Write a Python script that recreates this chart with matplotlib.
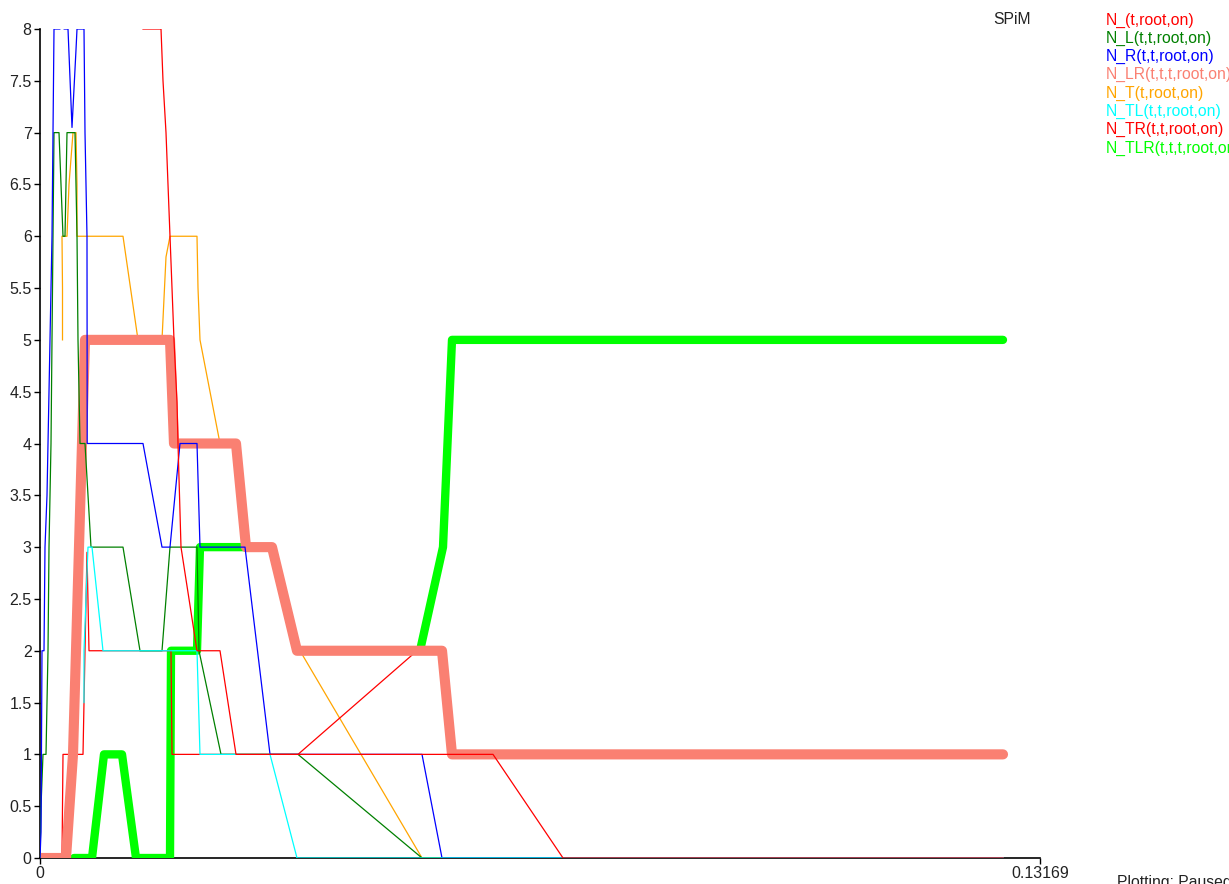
import matplotlib.pyplot as plt
import numpy as np

plt.rcParams["font.family"] = ["Liberation Sans", "DejaVu Sans"]

# simulation time in milliseconds, population counts per species
t_n = [0, 2.897, 3.029, 5.663, 5.926, 6.189, 6.453, 6.980, 17.251, 17.383,
       33.976, 49.647, 52.940, 54.256, 126.817]
n_n = [0, 0, 1, 1, 2, 2.95, 2, 2, 2, 1, 1, 2, 2, 1, 1]

t_l = [0, 0.132, 0.395, 0.790, 0.922, 1.054, 1.185, 1.449, 1.580, 1.712, 1.844,
       2.502, 2.634, 2.765, 2.897, 3.029, 3.292, 3.424, 3.556, 4.609, 4.873,
       5.004, 5.268, 5.926, 6.716, 10.930, 13.169, 16.066, 17.120, 20.675,
       20.938, 23.836, 33.976, 50.306, 126.817]
n_l = [0, 0.5, 1, 1, 1.5, 2, 3, 4, 5, 6, 7,
       7, 6.75, 6.5, 6.25, 6, 6, 6.5, 7, 7, 6,
       5, 4, 4, 3, 3, 2, 2, 3, 3,
       2, 1, 1, 0, 0]

t_r = [0, 0.132, 0.263, 0.527, 0.658, 0.922, 1.054, 1.185, 1.317, 1.580, 1.712,
       1.844, 2.634, 2.897, 3.161, 3.687, 4.214, 4.741, 4.873, 5.794, 5.926,
       6.189, 6.216, 13.564, 16.066, 17.120, 18.437, 20.675, 21.070, 26.996,
       30.289, 50.306, 52.940, 126.817]
n_r = [0, 0.25, 2, 2, 3, 3.5, 4, 4.5, 5, 6, 7,
       8, 8, 9, 8, 8, 7.05, 7.8, 8, 8, 7,
       6, 4, 4, 3, 3, 4, 4, 3, 3,
       1, 1, 0, 0]

t_lr = [0, 3.424, 4.346, 4.741, 5.136, 5.926, 17.120, 17.646, 25.811, 27.128,
        30.552, 33.844, 52.940, 54.256, 126.817]
n_lr = [0, 0, 1, 2, 3, 5, 5, 4, 4, 3, 3, 2, 2, 1, 1]

t_t = [2.963, 2.963, 2.897, 3.556, 3.819, 4.346, 4.741, 4.873, 4.873, 10.930,
       12.906, 16.066, 16.593, 17.120, 20.675, 20.807, 21.070, 23.704, 25.811,
       27.128, 30.552, 33.844, 34.239, 50.306, 126.817]
n_t = [5, 5.5, 6, 6, 6.5, 7, 7, 6.5, 6, 6,
       5, 5, 5.8, 6, 6, 5.5, 5, 4, 4,
       3, 3, 2, 2, 0, 0]

t_tl = [5.794, 5.794, 6.321, 6.848, 8.296, 20.675, 21.070, 30.289, 33.844, 126.817]
n_tl = [1.5, 2, 3, 3, 2, 2, 1, 1, 0, 0]

t_tr = [13.564, 15.935, 16.198, 16.593, 16.856, 17.120, 17.383, 17.646, 18.042,
        18.173, 18.568, 20.675, 23.704, 25.811, 59.656, 68.874, 126.817]
n_tr = [8, 8, 7.5, 7, 6.5, 6, 5.5, 5, 4.4,
        4, 3, 2, 2, 1, 1, 0, 0]

t_tlr = [4.477, 6.848, 8.428, 10.799, 12.642, 17.120, 17.251, 20.675, 21.070,
         26.996, 30.552, 33.844, 50.042, 53.071, 54.256, 126.817]
n_tlr = [0, 0, 1, 1, 0, 0, 2, 2, 3,
         3, 3, 2, 2, 3, 5, 5]

t_end = 0.13169
y_ticks = [0, 0.5, 1, 1.5, 2, 2.5, 3, 3.5, 4, 4.5, 5, 5.5, 6, 6.5, 7, 7.5, 8]
y_labels = ["0", "0.5", "1", "1.5", "2", "2.5", "3", "3.5", "4", "4.5",
            "5", "5.5", "6", "6.5", "7", "7.5", "8"]

legend_names = ["N_(t,root,on)", "N_L(t,t,root,on)", "N_R(t,t,root,on)",
                "N_LR(t,t,t,root,on)", "N_T(t,root,on)", "N_TL(t,t,root,on)",
                "N_TR(t,t,root,on)", "N_TLR(t,t,t,root,on)"]
legend_colors = ["#ff0000", "#008000", "#0000ff", "#fa8072",
                 "#ffa500", "#00ffff", "#ff0000", "#00ff00"]

W, H = 1229, 884
fig = plt.figure(figsize=(W / 100, H / 100), dpi=100)
ax = fig.add_axes([40 / W, 26 / H, 1000 / W, 829 / H])


def ms(t):
    return np.array(t) / 1000.0


thick = dict(solid_joinstyle="round", solid_capstyle="round")
ax.plot(ms(t_tlr), n_tlr, color="#00ff00", lw=6.0, zorder=1, **thick)
ax.plot(ms(t_t), n_t, color="#ffa500", lw=0.9, zorder=1.5)
ax.plot(ms(t_n), n_n, color="#ff0000", lw=0.9, zorder=2)
ax.plot(ms(t_lr), n_lr, color="#fa8072", lw=7.3, zorder=3, **thick)
ax.plot(ms(t_l), n_l, color="#008000", lw=0.9, zorder=4)
ax.plot(ms(t_r), n_r, color="#0000ff", lw=0.9, zorder=4)
ax.plot(ms(t_tl), n_tl, color="#00ffff", lw=0.9, zorder=4)
ax.plot(ms(t_tr), n_tr, color="#ff0000", lw=0.9, zorder=4)

ax.set_xlim(0, t_end)
ax.set_ylim(0, 8)
ax.set_yticks(y_ticks)
ax.set_yticklabels(y_labels)
ax.set_xticks([0, t_end])
ax.set_xticklabels(["0", "0.13169"])
ax.tick_params(labelsize=11.5, labelcolor="#222222", length=4, width=1, pad=2)
for side in ["top", "right"]:
    ax.spines[side].set_visible(False)
for side in ["left", "bottom"]:
    ax.spines[side].set_linewidth(1.2)
    ax.spines[side].set_zorder(0.5)

fig.text(993 / W, 1 - 20 / H, "SPiM", fontsize=11.3, color="#222222", va="center")
for i, (name, c) in enumerate(zip(legend_names, legend_colors)):
    fig.text(1106 / W, 1 - (20 + i * 18.3) / H, name, fontsize=11.3, color=c,
             va="center", ha="left")
# status line sits partly below the bottom edge of the window
fig.text(1117 / W, -3 / H, "Plotting: Paused", fontsize=11.3,
         color="#222222", va="baseline")

fig.savefig("out.png", dpi=100)
